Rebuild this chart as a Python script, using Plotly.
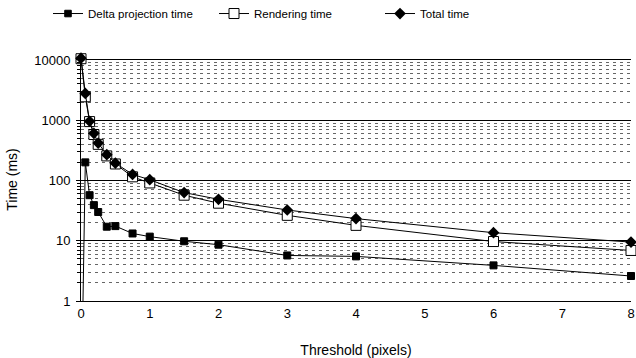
import plotly.graph_objects as go

threshold = [0, 0.0625, 0.125, 0.1875, 0.25, 0.375, 0.5, 0.75, 1, 1.5, 2, 3, 4, 6, 8]
delta_time = [0.01, 200, 57, 39, 30, 17.1, 17.5, 13.2, 11.7, 9.8, 8.6, 5.7, 5.5, 3.9, 2.6]
render_time = [10500, 2450, 950, 580, 398, 256, 188, 115, 91, 57, 42, 26.4, 18, 9.7, 6.9]
total_time = [10700, 2790, 963, 607, 418, 268, 194, 126, 103, 63, 48.7, 32.4, 23.3, 13.6, 9.5]
x_ticks = [0, 1, 2, 3, 4, 5, 6, 7, 8]
y_ticks = [1, 10, 100, 1000, 10000]

FONT = "Liberation Sans, Arial, sans-serif"

fig = go.Figure()

delta_sizes = [0 if v < 1 else 7 for v in delta_time]
fig.add_trace(go.Scatter(
    x=threshold, y=delta_time, mode="lines+markers", name="Delta projection time",
    line=dict(color="black", width=1),
    marker=dict(symbol="square", size=delta_sizes, color="black", opacity=1,
                line=dict(color="black", width=1)),
    cliponaxis=False,
))
fig.add_trace(go.Scatter(
    x=threshold, y=render_time, mode="lines+markers", name="Rendering time",
    line=dict(color="black", width=1),
    marker=dict(symbol="square", size=10, color="white", line=dict(color="black", width=1)),
    cliponaxis=False,
))
fig.add_trace(go.Scatter(
    x=threshold, y=total_time, mode="lines+markers", name="Total time",
    line=dict(color="black", width=1),
    marker=dict(symbol="diamond", size=9, color="black", line=dict(width=0)),
    cliponaxis=False,
))

fig.update_layout(
    width=636, height=358,
    margin=dict(l=81, r=5, t=58, b=57, autoexpand=False),
    paper_bgcolor="white", plot_bgcolor="white",
    font=dict(family=FONT, size=13, color="black"),
    legend=dict(
        orientation="h", x=-0.06, xanchor="left", y=1.183, yanchor="middle",
        entrywidth=121, entrywidthmode="pixels", itemwidth=30,
        font=dict(family=FONT, size=11.5, color="black"),
        bgcolor="rgba(0,0,0,0)",
    ),
    showlegend=True,
)
fig.update_xaxes(
    range=[0, 8], tickvals=x_ticks, ticktext=[str(t) for t in x_ticks],
    showgrid=False, zeroline=False, automargin=False,
    showline=True, linecolor="black", linewidth=1,
    ticks="", title=dict(text="Threshold (pixels)", font=dict(size=14), standoff=27),
)
fig.update_yaxes(
    type="log", range=[0, 4.033], tickvals=y_ticks, ticktext=[str(t) for t in y_ticks],
    showgrid=True, gridcolor="black", gridwidth=1, automargin=False,
    showline=True, linecolor="black", linewidth=1, zeroline=False,
    ticks="outside", ticklen=4, tickcolor="black", ticklabelstandoff=3,
    minor=dict(dtick="D1", showgrid=True, gridcolor="#666", griddash="3px,4px", gridwidth=1,
               ticks="outside", ticklen=3, tickcolor="black"),
    title=dict(text="Time (ms)", font=dict(size=14), standoff=13),
)

fig.write_html("out.html", config={"displayModeBar": False},
               post_script="document.body.style.margin='0';")
